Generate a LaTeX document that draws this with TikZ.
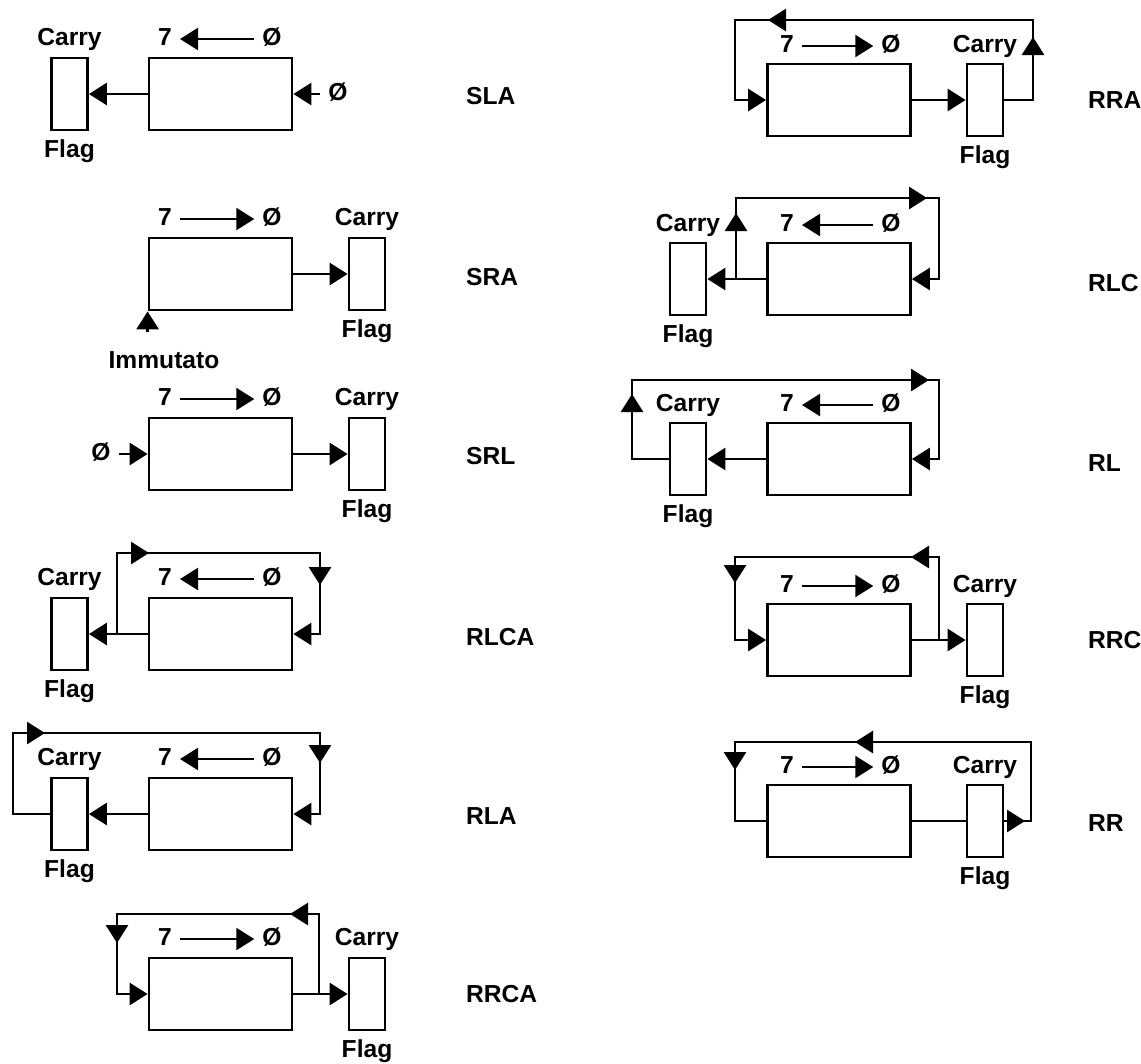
\documentclass[tikz,border=0pt]{standalone}
\usepackage{fontspec}
\setmainfont{Liberation Sans}
\usetikzlibrary{arrows.meta, positioning}

\begin{document}
\begin{tikzpicture}[
  x=0.02cm, y=-0.02cm,
  line width=1.6pt,
  reg/.style={draw, minimum width=2.86cm, minimum height=1.44cm, inner sep=0pt},
  cy/.style={draw, minimum width=0.72cm, minimum height=1.44cm, inner sep=0pt},
  txt/.style={font=\fontsize{14}{16}\selectfont\bfseries, inner sep=1pt,
              text height=10pt, text depth=3pt},
  opname/.style={txt, anchor=west},
  arr/.style={-{Triangle[length=0.36cm, width=0.44cm]}},
  lab/.style={arr, line width=1.3pt, shorten <=0.1cm, shorten >=0.1cm},
]
  \useasboundingbox (0,0) rectangle (1141,1063);

  % SLA
  \node[reg] (slaR) at (220.5,94) {};
  \node[cy]  (slaF) at (69.5,94)  {};
  \node[txt] (slaC) at (69.5,39)  {Carry};
  \node[txt] (slaG) at (69.5,151) {Flag};
  \node[txt] (sla7) at (165,39)   {7};
  \node[txt] (sla0) at (272,39)   {Ø};
  \node[txt] (slaI) at (338,94)   {Ø};
  \node[opname] (slaN) at (463,98) {SLA};
  \draw[lab] (sla0) -- (sla7);
  \draw[arr] (slaR.west) -- (slaF.east);
  \draw[arr, shorten <=0.1cm] (slaI) -- (slaR.east);

  % SRA
  \node[reg] (sraR) at (220.5,274) {};
  \node[cy]  (sraF) at (367,274)   {};
  \node[txt] (sraC) at (367,219)   {Carry};
  \node[txt] (sraG) at (367,331)   {Flag};
  \node[txt] (sra7) at (165,219)   {7};
  \node[txt] (sra0) at (272,219)   {Ø};
  \node[txt] (sraI) at (164,362)   {Immutato};
  \node[opname] (sraN) at (463,279) {SRA};
  \draw[lab] (sra7) -- (sra0);
  \draw[arr] (sraR.east) -- (sraF.west);
  \draw[arr, shorten <=0.3cm] (sraI.north -| sraR.south west) -- (sraR.south west);

  % SRL
  \node[reg] (srlR) at (220.5,454) {};
  \node[cy]  (srlF) at (367,454)   {};
  \node[txt] (srlC) at (367,399)   {Carry};
  \node[txt] (srlG) at (367,511)   {Flag};
  \node[txt] (srl7) at (165,399)   {7};
  \node[txt] (srl0) at (272,399)   {Ø};
  \node[txt] (srlI) at (101,454)   {Ø};
  \node[opname] (srlN) at (463,458) {SRL};
  \draw[lab] (srl7) -- (srl0);
  \draw[arr] (srlR.east) -- (srlF.west);
  \draw[arr, shorten <=0.1cm] (srlI) -- (srlR.west);

  % RLCA
  \node[reg] (rlcaR) at (220.5,634) {};
  \node[cy]  (rlcaF) at (69.5,634)  {};
  \node[txt] (rlcaC) at (69.5,579)  {Carry};
  \node[txt] (rlcaG) at (69.5,691)  {Flag};
  \node[txt] (rlca7) at (165,579)   {7};
  \node[txt] (rlca0) at (272,579)   {Ø};
  \node[opname] (rlcaN) at (463,639) {RLCA};
  \coordinate (rlcaJ)  at (117,634);
  \coordinate (rlcaA)  at (117,553);
  \coordinate (rlcaB)  at (320,553);
  \coordinate (rlcaD)  at (320,634);
  \coordinate (rlcaT1) at (149,553);
  \coordinate (rlcaT2) at (320,585);
  \draw[lab] (rlca0) -- (rlca7);
  \draw[arr] (rlcaR.west) -- (rlcaF.east);
  \draw[arr] (rlcaJ) -- (rlcaA) -- (rlcaB) -- (rlcaD) -- (rlcaR.east);
  \draw[arr] (rlcaA) -- (rlcaT1);
  \draw[arr] (rlcaB) -- (rlcaT2);

  % RLA
  \node[reg] (rlaR) at (220.5,814) {};
  \node[cy]  (rlaF) at (69.5,814)  {};
  \node[txt] (rlaC) at (69.5,759)  {Carry};
  \node[txt] (rlaG) at (69.5,871)  {Flag};
  \node[txt] (rla7) at (165,759)   {7};
  \node[txt] (rla0) at (272,759)   {Ø};
  \node[opname] (rlaN) at (463,818) {RLA};
  \coordinate (rlaA)  at (13,814);
  \coordinate (rlaB)  at (13,733);
  \coordinate (rlaC)  at (320,733);
  \coordinate (rlaD)  at (320,814);
  \coordinate (rlaT1) at (45,733);
  \coordinate (rlaT2) at (320,763);
  \draw[lab] (rla0) -- (rla7);
  \draw[arr] (rlaR.west) -- (rlaF.east);
  \draw[arr] (rlaF.west) -- (rlaA) -- (rlaB) -- (rlaC) -- (rlaD) -- (rlaR.east);
  \draw[arr] (rlaB) -- (rlaT1);
  \draw[arr] (rlaC) -- (rlaT2);

  % RRCA
  \node[reg] (rrcaR) at (220.5,994) {};
  \node[cy]  (rrcaF) at (367,994)   {};
  \node[txt] (rrcaC) at (367,939)   {Carry};
  \node[txt] (rrcaG) at (367,1051)  {Flag};
  \node[txt] (rrca7) at (165,939)   {7};
  \node[txt] (rrca0) at (272,939)   {Ø};
  \node[opname] (rrcaN) at (463,996) {RRCA};
  \coordinate (rrcaJ)  at (319,994);
  \coordinate (rrcaA)  at (319,914);
  \coordinate (rrcaB)  at (117,914);
  \coordinate (rrcaD)  at (117,994);
  \coordinate (rrcaT1) at (290,914);
  \coordinate (rrcaT2) at (117,943);
  \draw[lab] (rrca7) -- (rrca0);
  \draw[arr] (rrcaR.east) -- (rrcaF.west);
  \draw[arr] (rrcaJ) -- (rrcaA) -- (rrcaB) -- (rrcaD) -- (rrcaR.west);
  \draw[arr] (rrcaA) -- (rrcaT1);
  \draw[arr] (rrcaB) -- (rrcaT2);

  % RRA
  \node[reg] (rraR) at (839,100) {};
  \node[cy]  (rraF) at (985,100) {};
  \node[txt] (rraC) at (985,46)  {Carry};
  \node[txt] (rraG) at (985,157) {Flag};
  \node[txt] (rra7) at (787,46)  {7};
  \node[txt] (rra0) at (891,46)  {Ø};
  \node[opname] (rraN) at (1085,102) {RRA};
  \coordinate (rraA)  at (1033,100);
  \coordinate (rraB)  at (1033,20);
  \coordinate (rraC)  at (735,20);
  \coordinate (rraD)  at (735,100);
  \coordinate (rraT1) at (1033,37);
  \coordinate (rraT2) at (768,20);
  \draw[lab] (rra7) -- (rra0);
  \draw[arr] (rraR.east) -- (rraF.west);
  \draw[arr] (rraF.east) -- (rraA) -- (rraB) -- (rraC) -- (rraD) -- (rraR.west);
  \draw[arr] (rraA) -- (rraT1);
  \draw[arr] (rraB) -- (rraT2);

  % RLC
  \node[reg] (rlcR) at (839,279) {};
  \node[cy]  (rlcF) at (688,279) {};
  \node[txt] (rlcC) at (688,225) {Carry};
  \node[txt] (rlcG) at (688,336) {Flag};
  \node[txt] (rlc7) at (787,225) {7};
  \node[txt] (rlc0) at (891,225) {Ø};
  \node[opname] (rlcN) at (1085,285) {RLC};
  \coordinate (rlcJ)  at (736,279);
  \coordinate (rlcA)  at (736,198);
  \coordinate (rlcB)  at (939,198);
  \coordinate (rlcD)  at (939,279);
  \coordinate (rlcT1) at (736,213);
  \coordinate (rlcT2) at (927,198);
  \draw[lab] (rlc0) -- (rlc7);
  \draw[arr] (rlcR.west) -- (rlcF.east);
  \draw[arr] (rlcJ) -- (rlcA) -- (rlcB) -- (rlcD) -- (rlcR.east);
  \draw[arr] (rlcJ) -- (rlcT1);
  \draw[arr] (rlcA) -- (rlcT2);

  % RL
  \node[reg] (rlR) at (839,459) {};
  \node[cy]  (rlF) at (688,459) {};
  \node[txt] (rlC) at (688,405) {Carry};
  \node[txt] (rlG) at (688,516) {Flag};
  \node[txt] (rl7) at (787,405) {7};
  \node[txt] (rl0) at (891,405) {Ø};
  \node[opname] (rlN) at (1085,465) {RL};
  \coordinate (rlA)  at (632,459);
  \coordinate (rlB)  at (632,380);
  \coordinate (rlC)  at (939,380);
  \coordinate (rlD)  at (939,459);
  \coordinate (rlT1) at (632,394);
  \coordinate (rlT2) at (929,380);
  \draw[lab] (rl0) -- (rl7);
  \draw[arr] (rlR.west) -- (rlF.east);
  \draw[arr] (rlF.west) -- (rlA) -- (rlB) -- (rlC) -- (rlD) -- (rlR.east);
  \draw[arr] (rlA) -- (rlT1);
  \draw[arr] (rlB) -- (rlT2);

  % RRC
  \node[reg] (rrcR) at (839,640) {};
  \node[cy]  (rrcF) at (985,640) {};
  \node[txt] (rrcC) at (985,586) {Carry};
  \node[txt] (rrcG) at (985,697) {Flag};
  \node[txt] (rrc7) at (787,586) {7};
  \node[txt] (rrc0) at (891,586) {Ø};
  \node[opname] (rrcN) at (1085,642) {RRC};
  \coordinate (rrcJ)  at (939,640);
  \coordinate (rrcA)  at (939,557);
  \coordinate (rrcB)  at (735,557);
  \coordinate (rrcD)  at (735,640);
  \coordinate (rrcT1) at (911,557);
  \coordinate (rrcT2) at (735,583);
  \draw[lab] (rrc7) -- (rrc0);
  \draw[arr] (rrcR.east) -- (rrcF.west);
  \draw[arr] (rrcJ) -- (rrcA) -- (rrcB) -- (rrcD) -- (rrcR.west);
  \draw[arr] (rrcA) -- (rrcT1);
  \draw[arr] (rrcB) -- (rrcT2);

  % RR
  \node[reg] (rrR) at (839,821) {};
  \node[cy]  (rrF) at (985,821) {};
  \node[txt] (rrC) at (985,767) {Carry};
  \node[txt] (rrG) at (985,878) {Flag};
  \node[txt] (rr7) at (787,767) {7};
  \node[txt] (rr0) at (891,767) {Ø};
  \node[opname] (rrN) at (1085,825) {RR};
  \coordinate (rrA)  at (1031,821);
  \coordinate (rrB)  at (1031,742);
  \coordinate (rrC)  at (735,742);
  \coordinate (rrD)  at (735,821);
  \coordinate (rrT0) at (1025,821);
  \coordinate (rrT1) at (855,742);
  \coordinate (rrT2) at (735,770);
  \draw[lab] (rr7) -- (rr0);
  \draw (rrR.east) -- (rrF.west);
  \draw (rrF.east) -- (rrA) -- (rrB) -- (rrC) -- (rrD) -- (rrR.west);
  \draw[arr] (rrF.east) -- (rrT0);
  \draw[arr] (rrB) -- (rrT1);
  \draw[arr] (rrC) -- (rrT2);
\end{tikzpicture}
\end{document}
